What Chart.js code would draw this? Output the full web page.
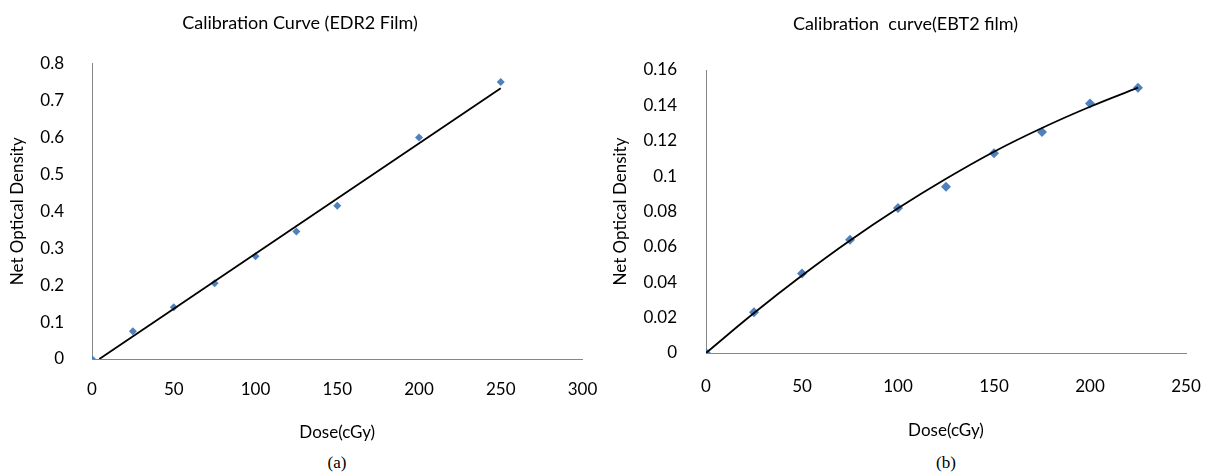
<!DOCTYPE html>
<html>
<head>
<meta charset="utf-8">
<script src="https://cdn.jsdelivr.net/npm/chart.js@4.4.0/dist/chart.umd.min.js"></script>
<style>
    body { margin: 0; background: #fff; width: 1211px; height: 475px; position: relative; overflow: hidden; }
    .panel { position: absolute; top: 0; height: 445px; }
    .caption { position: absolute; top: 453px; font-family: "Liberation Serif", serif; font-size: 17px; color: #000; text-align: center; width: 60px; }
</style>
</head>
<body>
<div class="panel" style="left:0;width:600px"><canvas id="chartA" width="600" height="445"></canvas></div>
<div class="panel" style="left:600px;width:611px"><canvas id="chartB" width="611" height="445"></canvas></div>
<div class="caption" style="left:307px">(a)</div>
<div class="caption" style="left:916px">(b)</div>

<script>
// EDR2 film measurements
const doseA = [0, 25, 50, 75, 100, 125, 150, 200, 250];
const odA = [0, 0.075, 0.14, 0.205, 0.278, 0.345, 0.415, 0.60, 0.75];
// linear trendline ends
const fitDoseA = [4.5, 250];
const fitOdA = [0, 0.733];
const xTicksA = ['0', '50', '100', '150', '200', '250', '300'];
const yTicksA = ['0', '0.1', '0.2', '0.3', '0.4', '0.5', '0.6', '0.7', '0.8'];

// EBT2 film measurements
const doseB = [0, 25, 50, 75, 100, 125, 150, 175, 200, 225];
const odB = [0, 0.023, 0.045, 0.064, 0.082, 0.094, 0.113, 0.125, 0.141, 0.150];
// polynomial trendline, read at the same doses
const fitOdB = [0, 0.0226, 0.0438, 0.0636, 0.0818, 0.0985, 0.1138, 0.1272, 0.1392, 0.1500];
const xTicksB = ['0', '50', '100', '150', '200', '250'];
const yTicksB = ['0', '0.02', '0.04', '0.06', '0.08', '0.1', '0.12', '0.14', '0.16'];

const FONT = 'Lato, "Noto Sans", sans-serif';
const markerColor = '#4f81bd';
const axisColor = '#868686';

function toPoints(xs, ys) {
    return xs.map((x, i) => ({ x: x, y: ys[i] }));
}

function makeChart(id, opts) {
    const ctx = document.getElementById(id).getContext('2d');
    return new Chart(ctx, {
        type: 'scatter',
        data: {
            datasets: [
                {
                    label: 'Trend',
                    data: opts.fit,
                    showLine: true,
                    borderColor: '#000',
                    borderWidth: 1.8,
                    pointRadius: 0,
                    tension: opts.tension,
                    order: 0
                },
                {
                    label: 'Measured',
                    data: opts.points,
                    pointStyle: 'rectRot',
                    pointRadius: opts.markerSize,
                    backgroundColor: markerColor,
                    borderColor: markerColor,
                    borderWidth: 0,
                    order: 1
                }
            ]
        },
        options: {
            responsive: false,
            animation: false,
            layout: { padding: { left: opts.pad, right: opts.pad, top: 0, bottom: 0 } },
            plugins: {
                legend: { display: false },
                tooltip: { enabled: false },
                title: {
                    display: true,
                    text: opts.title,
                    color: '#000',
                    font: { family: FONT, size: 18, weight: 'normal' },
                    padding: { top: opts.titleTop, bottom: opts.titleBottom }
                }
            },
            scales: {
                x: {
                    type: 'linear',
                    min: 0,
                    max: opts.xMax,
                    // invisible tick marks give the label gap without widening the side padding
                    grid: {
                        display: true,
                        drawOnChartArea: false,
                        drawTicks: true,
                        tickLength: opts.xTickGap,
                        tickColor: 'rgba(0,0,0,0)'
                    },
                    border: { display: true, color: axisColor, width: 1 },
                    ticks: {
                        stepSize: 50,
                        padding: 0,
                        color: '#000',
                        font: { family: FONT, size: 17 },
                        maxRotation: 0,
                        callback: (v, i) => opts.xTicks[i]
                    },
                    title: {
                        display: true,
                        text: 'Dose(cGy)',
                        color: '#000',
                        font: { family: FONT, size: 17 },
                        padding: { top: 0, bottom: opts.xTitlePad }
                    },
                    afterFit: s => { s.height = opts.xAxisH; }
                },
                y: {
                    type: 'linear',
                    min: 0,
                    max: opts.yMax,
                    grid: { display: false },
                    border: { display: true, color: axisColor, width: 1 },
                    ticks: {
                        stepSize: opts.yStep,
                        padding: opts.yTickPad,
                        color: '#000',
                        font: { family: FONT, size: 17 },
                        callback: (v, i) => opts.yTicks[i]
                    },
                    title: {
                        display: true,
                        text: 'Net Optical Density',
                        color: '#000',
                        font: { family: FONT, size: 17 },
                        padding: { top: opts.yTitlePad, bottom: 0 }
                    },
                    afterFit: s => { s.width = opts.yAxisW; }
                }
            }
        }
    });
}

makeChart('chartA', {
    title: 'Calibration Curve (EDR2 Film)',
    points: toPoints(doseA, odA),
    fit: toPoints(fitDoseA, fitOdA),
    tension: 0,
    markerSize: 4,
    xMax: 300, yMax: 0.8, yStep: 0.1,
    xTicks: xTicksA, yTicks: yTicksA,
    pad: 17.5, yAxisW: 74.5, xAxisH: 86,
    titleTop: 12.2, titleBottom: 29.7,
    xTickGap: 20.8, xTitlePad: 1.8,
    yTickPad: 20, yTitlePad: -9.7
});

makeChart('chartB', {
    title: 'Calibration  curve(EBT2 film)',
    points: toPoints(doseB, odB),
    fit: toPoints(doseB, fitOdB),
    tension: 0.4,
    markerSize: 5,
    xMax: 250, yMax: 0.16, yStep: 0.02,
    xTicks: xTicksB, yTicks: yTicksB,
    pad: 25, yAxisW: 81, xAxisH: 92,
    titleTop: 13.2, titleBottom: 35.2,
    xTickGap: 23.8, xTitlePad: 3.8,
    yTickPad: 21, yTitlePad: -14.2
});
</script>
</body>
</html>
